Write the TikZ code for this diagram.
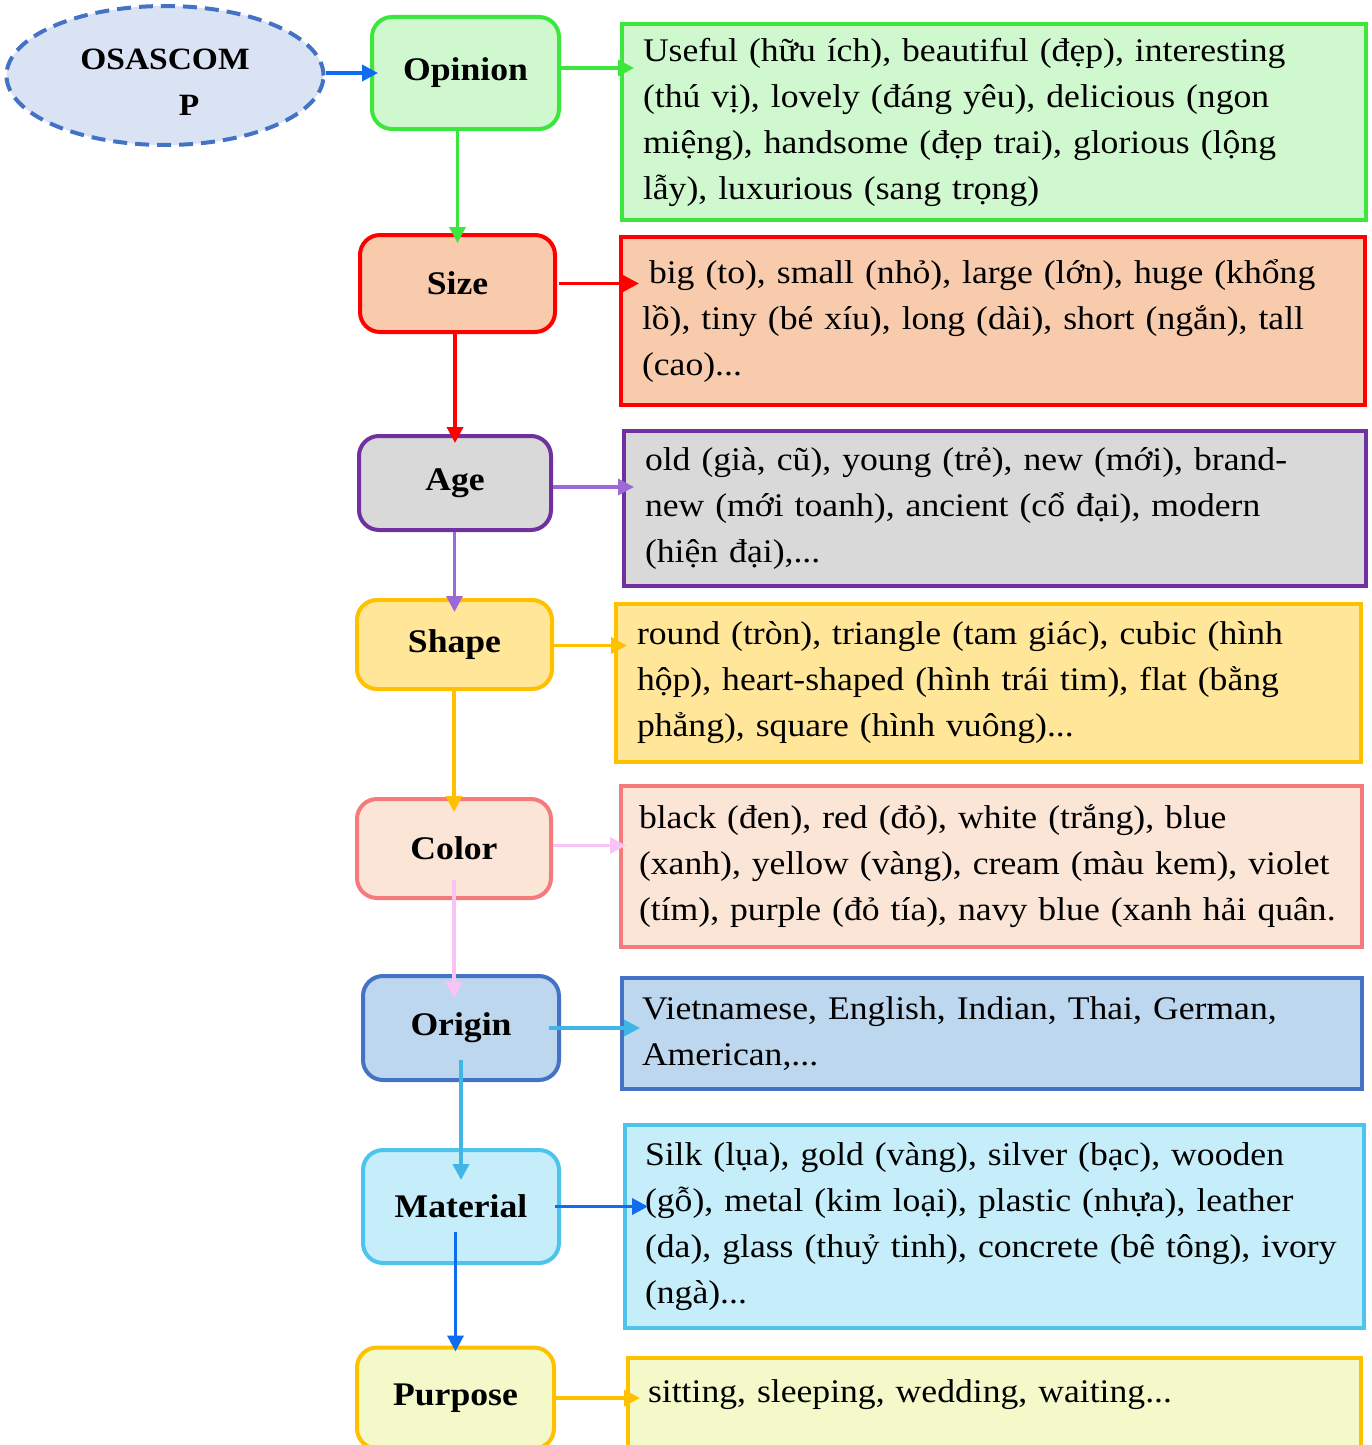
\documentclass[tikz,border=0pt]{standalone}
\usepackage{fontspec}
\setmainfont{Liberation Serif}[FakeStretch=1.08, WordSpace=0.88]
\usepackage{tikz}
\usetikzlibrary{arrows.meta,shapes.geometric}

\definecolor{startfill}{RGB}{218,227,243}
\definecolor{startline}{RGB}{68,114,196}
\definecolor{opline}{RGB}{60,230,60}
\definecolor{opfill}{RGB}{208,248,206}
\definecolor{szline}{RGB}{255,0,0}
\definecolor{szfill}{RGB}{248,203,173}
\definecolor{agline}{RGB}{112,48,160}
\definecolor{agfill}{RGB}{217,217,217}
\definecolor{agarrow}{RGB}{155,106,214}
\definecolor{shline}{RGB}{255,192,0}
\definecolor{shfill}{RGB}{255,230,153}
\definecolor{coline}{RGB}{245,122,124}
\definecolor{cofill}{RGB}{251,229,214}
\definecolor{coarrow}{RGB}{248,196,244}
\definecolor{orline}{RGB}{68,114,196}
\definecolor{orfill}{RGB}{189,215,238}
\definecolor{orarrow}{RGB}{65,182,230}
\definecolor{maline}{RGB}{76,196,238}
\definecolor{mafill}{RGB}{197,238,250}
\definecolor{maarrow}{RGB}{15,107,240}
\definecolor{puline}{RGB}{255,192,0}
\definecolor{pufill}{RGB}{243,249,201}

\begin{document}
\begin{tikzpicture}[x=1pt,y=-1pt,
    tag/.style={draw, rounded corners=20pt, line width=4pt, align=center,
      font=\bfseries\fontsize{33}{46}\selectfont},
    info/.style={draw, line width=4pt, anchor=north west, inner xsep=0pt,
      align=left, font=\fontsize{33}{46}\selectfont},
    link/.style={line width=3.5pt, -{Triangle[length=16pt,width=16pt]}}]
  \clip (0,0) rectangle (1371,1445);
  \fill[white] (0,0) rectangle (1371,1445);

  % Start ellipse
  \node[ellipse, draw=startline, fill=startfill, dash pattern=on 14pt off 8pt,
    line width=4pt, minimum width=317pt, minimum height=139pt, inner sep=0pt,
    text height=79pt, font=\bfseries\fontsize{31}{46}\selectfont, align=center]
    (start) at (165,75.5) {OSASCOM\\\hspace*{48pt}P};

  % Left column
  \node[tag, draw=opline, fill=opfill, minimum width=187pt, minimum height=112pt] (opinion) at (465.5,73) {Opinion};
  \node[tag, draw=szline, fill=szfill, minimum width=195pt, minimum height=97pt] (size) at (457.5,283.5) {Size};
  \node[tag, draw=agline, fill=agfill, minimum width=192pt, minimum height=94pt] (age) at (455,483) {Age};
  \node[tag, draw=shline, fill=shfill, minimum width=195pt, minimum height=89pt] (shape) at (454.5,644.5) {Shape};
  \node[tag, draw=coline, fill=cofill, minimum width=194pt, minimum height=99pt] (color) at (454,848.5) {Color};
  \node[tag, draw=orline, fill=orfill, minimum width=196pt, minimum height=104pt] (origin) at (461,1028) {Origin};
  \node[tag, draw=maline, fill=mafill, minimum width=196pt, minimum height=113pt] (material) at (461,1206.5) {Material};
  \node[tag, draw=puline, fill=pufill, minimum width=197pt, minimum height=101pt] (purpose) at (455.5,1398) {Purpose};

  % Right column
  \node[info, draw=opline, fill=opfill, minimum width=744pt, minimum height=196pt, text width=702pt]
    (opinionlist) at (620,22) {Useful (hữu ích), beautiful (đẹp), interesting\\(thú vị), lovely (đáng yêu), delicious (ngon\\miệng), handsome (đẹp trai), glorious (lộng\\lẫy), luxurious (sang trọng)};
  \node[info, draw=szline, fill=szfill, minimum width=744pt, minimum height=168pt, text width=702pt]
    (sizelist) at (619,235) {\hspace*{7pt}big (to), small (nhỏ), large (lớn), huge (khổng\\lồ), tiny (bé xíu), long (dài), short (ngắn), tall\\(cao)...};
  \node[info, draw=agline, fill=agfill, minimum width=742pt, minimum height=155pt, text width=700pt]
    (agelist) at (622,429) {old (già, cũ), young (trẻ), new (mới), brand-\\new (mới toanh), ancient (cổ đại), modern\\(hiện đại),...};
  \node[info, draw=shline, fill=shfill, minimum width=745pt, minimum height=158pt, text width=703pt]
    (shapelist) at (614,602) {round (tròn), triangle (tam giác), cubic (hình\\hộp), heart-shaped (hình trái tim), flat (bằng\\phẳng), square (hình vuông)...};
  \node[info, draw=coline, fill=cofill, minimum width=741pt, minimum height=161pt, text width=705pt]
    (colorlist) at (619,784) {black (đen), red (đỏ), white (trắng), blue\\(xanh), yellow (vàng), cream (màu kem), violet\\(tím), purple (đỏ tía), navy blue (xanh hải quân.};
  \node[info, draw=orline, fill=orfill, minimum width=740pt, minimum height=111pt, text width=700pt]
    (originlist) at (620,976) {Vietnamese, English, Indian, Thai, German,\\American,...};
  \node[info, draw=maline, fill=mafill, minimum width=739pt, minimum height=203pt, text width=699pt]
    (materiallist) at (623,1123) {Silk (lụa), gold (vàng), silver (bạc), wooden\\(gỗ), metal (kim loại), plastic (nhựa), leather\\(da), glass (thuỷ tinh), concrete (bê tông), ivory\\(ngà)...};
  \node[info, draw=puline, fill=pufill, minimum width=733pt, inner ysep=22pt, text depth=60pt, text width=693pt]
    (purposelist) at (626,1356) {sitting, sleeping, wedding, waiting...};

  % Arrows down the column
  \draw[link, color=maarrow, shorten >=-8pt] (opinion.west -| start.east) -- (opinion.west);
  \draw[link, color=opline, shorten >=-10pt] (size.north |- opinion.south) -- (size.north);
  \draw[link, color=szline, shorten >=-9pt] (age.north |- size.south) -- (age.north);
  \draw[link, color=agarrow, shorten >=-14pt] (shape.north |- age.south) -- (shape.north);
  \draw[link, color=shline, shorten >=-15pt] (color.north |- shape.south) -- (color.north);
  \draw[link, color=coarrow, shorten <=-20pt, shorten >=-24pt] (color.south) -- (color.south |- origin.north);
  \draw[link, color=orarrow, shorten <=-22pt, shorten >=-32pt] (material.north |- origin.south) -- (material.north);
  \draw[link, color=maarrow, shorten <=-33pt, shorten >=-6pt] (purpose.north |- material.south) -- (purpose.north);

  % Arrows to the lists
  \draw[link, color=opline, shorten >=-14pt] ([yshift=5pt]opinion.east) -- ([yshift=5pt]opinion.east -| opinionlist.west);
  \draw[link, color=szline, shorten <=2pt, shorten >=-20pt] (size.east) -- (size.east -| sizelist.west);
  \draw[link, color=agarrow, shorten >=-12pt] ([yshift=-4pt]age.east) -- ([yshift=-4pt]age.east -| agelist.west);
  \draw[link, color=shline, shorten >=-13pt] ([yshift=-1pt]shape.east) -- ([yshift=-1pt]shape.east -| shapelist.west);
  \draw[link, color=coarrow, shorten >=-7pt] ([yshift=3pt]color.east) -- ([yshift=3pt]color.east -| colorlist.west);
  \draw[link, color=orarrow, shorten <=-12pt, shorten >=-20pt] (origin.east) -- (origin.east -| originlist.west);
  \draw[link, color=maarrow, shorten <=-6pt, shorten >=-25pt] (material.east) -- (material.east -| materiallist.west);
  \draw[link, color=puline, shorten >=-14pt] (purpose.east) -- (purpose.east -| purposelist.west);
\end{tikzpicture}
\end{document}
